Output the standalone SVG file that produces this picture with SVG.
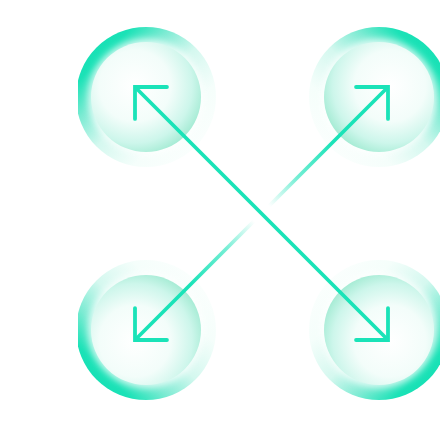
<svg xmlns="http://www.w3.org/2000/svg" width="440" height="428" viewBox="0 0 440 428">
  <defs>
    <style>
      .outer { fill: url(#outerGrad); }
      .glow { fill: #ffffff; opacity: 0.75; filter: url(#soft); }
      .inner { fill: url(#innerGrad); }
      .arrow { fill: none; stroke-width: 3.8; stroke-linecap: butt; }
      .solid { stroke: #1ae3b8; }
      .faded { stroke: url(#fadeGrad); }
    </style>
    <filter id="soft" x="-30%" y="-30%" width="160%" height="160%">
      <feGaussianBlur stdDeviation="3.5"/>
    </filter>
    <linearGradient id="outerGrad" x1="0" y1="0" x2="1" y2="1">
      <stop offset="0" stop-color="#0fdcb0"/>
      <stop offset="0.2" stop-color="#1be2b7"/>
      <stop offset="0.34" stop-color="#7debd3"/>
      <stop offset="0.5" stop-color="#d4f8ef"/>
      <stop offset="0.7" stop-color="#f5fefb"/>
      <stop offset="1" stop-color="#ffffff"/>
    </linearGradient>
    <radialGradient id="innerGrad" cx="0.4" cy="0.4" r="0.65">
      <stop offset="0" stop-color="#ffffff"/>
      <stop offset="0.5" stop-color="#f3fdfa"/>
      <stop offset="0.8" stop-color="#cdf6eb"/>
      <stop offset="1" stop-color="#a3ebd3"/>
    </radialGradient>
    <linearGradient id="fadeGrad" gradientUnits="userSpaceOnUse" x1="388" y1="87" x2="135" y2="340">
      <stop offset="0" stop-color="#1ae3b8" stop-opacity="1"/>
      <stop offset="0.22" stop-color="#1ae3b8" stop-opacity="1"/>
      <stop offset="0.36" stop-color="#1ae3b8" stop-opacity="0.6"/>
      <stop offset="0.47" stop-color="#1ae3b8" stop-opacity="0"/>
      <stop offset="0.53" stop-color="#1ae3b8" stop-opacity="0"/>
      <stop offset="0.64" stop-color="#1ae3b8" stop-opacity="0.6"/>
      <stop offset="0.78" stop-color="#1ae3b8" stop-opacity="1"/>
      <stop offset="1" stop-color="#1ae3b8" stop-opacity="1"/>
    </linearGradient>
    <marker id="head" markerUnits="userSpaceOnUse" markerWidth="60" markerHeight="60" refX="0" refY="0" viewBox="-40 -30 60 60" orient="auto-start-reverse" overflow="visible">
      <path d="M-22.6,-22.6 L0,0 L-22.6,22.6" fill="none" stroke="#1ae3b8" stroke-width="3.8" stroke-linecap="round" stroke-linejoin="miter"/>
    </marker>
    <clipPath id="frame">
      <rect x="78" y="0" width="362" height="428"/>
    </clipPath>
  </defs>
  <rect width="440" height="428" fill="#ffffff"/>
  <g id="nodes" clip-path="url(#frame)">
    <g id="node-tl" transform="translate(146,97)">
      <circle class="outer" r="70"/>
      <circle class="glow" r="58"/>
      <circle class="inner" r="55"/>
    </g>
    <g id="node-tr" transform="translate(379,97) scale(-1,1)">
      <circle class="outer" r="70"/>
      <circle class="glow" r="58"/>
      <circle class="inner" r="55"/>
    </g>
    <g id="node-bl" transform="translate(146,330) scale(1,-1)">
      <circle class="outer" r="70"/>
      <circle class="glow" r="58"/>
      <circle class="inner" r="55"/>
    </g>
    <g id="node-br" transform="translate(379,330) scale(-1,-1)">
      <circle class="outer" r="70"/>
      <circle class="glow" r="58"/>
      <circle class="inner" r="55"/>
    </g>
  </g>
  <g id="connectors">
    <path id="arrow-tl-br" class="arrow solid" d="M135,87 L388,340" marker-start="url(#head)" marker-end="url(#head)"/>
    <path id="arrow-tr-bl" class="arrow faded" d="M388,87 L135,340" marker-start="url(#head)" marker-end="url(#head)"/>
  </g>
</svg>
